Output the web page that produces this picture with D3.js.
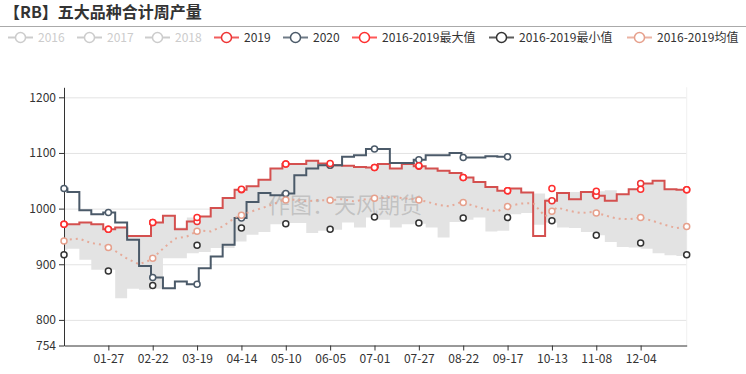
<!DOCTYPE html>
<html>
<head>
<meta charset="utf-8">
<script src="https://cdn.jsdelivr.net/npm/d3@7/dist/d3.min.js"></script>
<style>
body { margin: 0; background: #fff; }
svg { display: block; font-family: "Microsoft YaHei", "Noto Sans CJK SC", sans-serif; }
</style>
</head>
<body>
<script>
// weekly observation dates (on a leap-year day axis), last one closes the year
var weekDates = ['01-01','01-03','01-10','01-17','01-24','01-31','02-07','02-14','02-21','02-28',
  '03-06','03-13','03-20','03-27','04-03','04-10','04-17','04-24','05-01','05-08',
  '05-15','05-22','05-29','06-05','06-12','06-19','06-26','07-03','07-10','07-17',
  '07-24','07-31','08-07','08-14','08-21','08-28','09-04','09-11','09-18','09-25',
  '10-02','10-09','10-16','10-23','10-30','11-06','11-13','11-20','11-27','12-04',
  '12-11','12-18','12-25','12-31'];

var xLabels = ['01-27','02-22','03-19','04-14','05-10','06-05','07-01','07-27','08-22','09-17','10-13','11-08','12-04'];
var yTicks = [754, 800, 900, 1000, 1100, 1200];

var values2019 = [972, 972, 975, 972, 963, 966, 951, 951, 975, 987,
  963, 977, 986, 1001, 1019, 1034, 1040, 1052, 1072, 1080,
  1080, 1086, 1081, 1078, 1077, 1075, 1074, 1080, 1072, 1080,
  1076, 1072, 1068, 1064, 1056, 1048, 1039, 1032, 1036, 1029,
  951, 1014, 1028, 1017, 1030, 1023, 1014, 1026, 1035, 1045,
  1050, 1035, 1034, 1034];

var values2020 = [1036, 1030, 997, 990, 993, 975, 944, 897, 876, 857,
  869, 864, 893, 914, 935, 983, 1012, 1028, 1024, 1027,
  1060, 1072, 1078, 1078, 1093, 1096, 1107, 1107, 1082, 1082,
  1088, 1096, 1096, 1100, 1092, 1092, 1094, 1093];
var end2020 = '09-17';

var meanValues = [942, 944, 946, 938, 935, 924, 910, 900, 908, 928,
  946, 950, 961, 959, 968, 983, 992, 999, 1006, 1015,
  1016, 1013, 1015, 1015, 1017, 1013, 1017, 1019, 1021, 1019,
  1017, 1013, 1007, 1004, 1012, 1005, 999, 995, 1005, 1009,
  1010, 986, 1002, 996, 992, 994, 988, 982, 981, 984,
  978, 971, 965, 968];

var bandLow = [926, 928, 908, 890, 890, 839, 856, 854, 856, 911,
  911, 920, 922, 929, 929, 941, 953, 958, 972, 974,
  974, 956, 960, 962, 975, 966, 984, 980, 966, 972,
  973, 966, 948, 976, 980, 984, 959, 960, 990, 992,
  971, 975, 966, 965, 958, 952, 940, 931, 930, 928,
  920, 916, 915, 915];

var bandHigh = [972, 972, 975, 972, 963, 966, 951, 951, 975, 987,
  966, 984, 986, 1001, 1019, 1034, 1040, 1052, 1072, 1080,
  1080, 1086, 1081, 1078, 1077, 1075, 1074, 1080, 1072, 1080,
  1076, 1072, 1068, 1064, 1056, 1048, 1039, 1032, 1036, 1029,
  1027, 1018, 1028, 1030, 1030, 1031, 1033, 1026, 1035, 1045,
  1050, 1035, 1034, 1034];

// symbols sit on these dates
var markDates = ['01-01'].concat(xLabels, ['12-31']);
var maxMarks = [972, 963, 975, 984, 1035, 1080, 1081, 1074, 1077, 1056, 1032, 1036, 1031, 1035, 1034];
var minMarks = [917, 888, 862, 934, 965, 973, 963, 985, 974, 983, 984, 978, 952, 938, 917];

var legendNames = ['2016', '2017', '2018', '2019', '2020', '2016-2019最大值', '2016-2019最小值', '2016-2019均值'];

var width = 746, height = 374;
var c2019 = '#d4504f', c2019Dot = '#ee3434';
var c2020 = '#4b5a69';
var cMax = '#ff2e2e', cMin = '#333333', cMean = '#e6a08c';
var legendColors = ['#ccc', '#ccc', '#ccc', c2019Dot, c2020, cMax, cMin, cMean];
var legendOn = [false, false, false, true, true, true, true, true];

var svg = d3.select('body').append('svg')
    .attr('width', width)
    .attr('height', height);

// days of a leap year as the category axis
var categories = d3.timeDay.range(new Date(2020, 0, 1), new Date(2021, 0, 1)).map(d3.timeFormat('%m-%d'));
var x = d3.scalePoint().domain(categories).range([64, 686.7]);
var y = d3.scaleLinear().domain([754, 1218]).range([345.5, 87.3]);

function dayIndex(d) { return categories.indexOf(d); }

// value of a weekly step series on a given day
function stepValue(dates, values, date) {
  var v = null;
  for (var i = 0; i < values.length; i++) {
    if (dayIndex(dates[i]) <= dayIndex(date)) v = values[i];
  }
  return v;
}

// title + rule
svg.append('text')
    .attr('x', 4)
    .attr('y', 18)
    .attr('font-size', 16)
    .attr('font-weight', 'bold')
    .attr('fill', '#333')
    .text('【RB】五大品种合计周产量');

svg.append('line')
    .attr('x1', 0).attr('x2', width)
    .attr('y1', 26.5).attr('y2', 26.5)
    .attr('stroke', '#aaa')
    .attr('stroke-width', 1);

// legend
var legendX = [8, 77, 145, 214, 283, 352, 489, 627];
var legend = svg.append('g').selectAll('g')
    .data(legendNames)
    .enter().append('g')
    .attr('transform', function(d, i) { return 'translate(' + legendX[i] + ',37.5)'; });

legend.append('line')
    .attr('x1', 0).attr('x2', 25)
    .attr('stroke', function(d, i) { return legendColors[i]; })
    .attr('stroke-opacity', function(d, i) { return legendOn[i] ? 0.8 : 1; })
    .attr('stroke-width', 2);

legend.append('circle')
    .attr('cx', 12.5)
    .attr('r', 5)
    .attr('fill', '#fff')
    .attr('stroke', function(d, i) { return legendColors[i]; })
    .attr('stroke-width', 1.5);

legend.append('text')
    .attr('x', 30)
    .attr('y', 4.5)
    .attr('font-size', 12)
    .attr('fill', function(d, i) { return legendOn[i] ? '#333' : '#ccc'; })
    .text(function(d) { return d; });

// grid
svg.append('g').selectAll('line')
    .data(yTicks.filter(function(t) { return t !== 754; }))
    .enter().append('line')
    .attr('x1', 64).attr('x2', 686.7)
    .attr('y1', function(d) { return y(d) + 0.5; })
    .attr('y2', function(d) { return y(d) + 0.5; })
    .attr('stroke', '#e3e3e3');

svg.append('line')
    .attr('x1', 686.7).attr('x2', 686.7)
    .attr('y1', y(1218)).attr('y2', y(754))
    .attr('stroke', '#f0f0f0');

// 2016-2019 range band
var band = d3.area()
    .curve(d3.curveStepAfter)
    .x(function(d) { return x(d); })
    .y0(function(d, i) { return y(bandLow[i]); })
    .y1(function(d, i) { return y(bandHigh[i]); });

svg.append('path')
    .attr('d', band(weekDates))
    .attr('fill', '#e3e3e3');

// watermark
svg.append('text')
    .attr('x', 268)
    .attr('y', 213)
    .attr('font-size', 22)
    .attr('fill', '#999')
    .attr('fill-opacity', 0.45)
    .text('作图：天风期货');

// axes
var yAxis = svg.append('g')
    .attr('transform', 'translate(64,0)')
    .call(d3.axisLeft(y).tickValues(yTicks).tickFormat(d3.format('d'))
      .tickSize(5).tickSizeOuter(0).tickPadding(3));

var xAxis = svg.append('g')
    .attr('transform', 'translate(0,345.5)')
    .call(d3.axisBottom(x).tickValues(xLabels).tickSize(5).tickSizeOuter(0).tickPadding(4));

[yAxis, xAxis].forEach(function(ax) {
  ax.select('.domain').attr('stroke', '#333');
  ax.selectAll('.tick line').attr('stroke', '#333');
  ax.selectAll('text')
    .attr('font-size', 12)
    .attr('fill', '#333')
    .attr('font-family', '"Microsoft YaHei", "Noto Sans CJK SC", sans-serif');
});

// lines
var stepLine = d3.line()
    .curve(d3.curveStepAfter)
    .x(function(d) { return x(d[0]); })
    .y(function(d) { return y(d[1]); });

var pts2019 = weekDates.map(function(d, i) { return [d, values2019[i]]; });
var pts2020 = values2020.map(function(v, i) { return [weekDates[i], v]; });
pts2020.push([end2020, values2020[values2020.length - 1]]);

svg.append('path')
    .attr('d', stepLine(pts2019))
    .attr('fill', 'none')
    .attr('stroke', c2019)
    .attr('stroke-width', 2);

svg.append('path')
    .attr('d', stepLine(pts2020))
    .attr('fill', 'none')
    .attr('stroke', c2020)
    .attr('stroke-width', 2);

var meanLine = d3.line()
    .x(function(d) { return x(d); })
    .y(function(d, i) { return y(meanValues[i]); });

svg.append('path')
    .attr('d', meanLine(weekDates))
    .attr('fill', 'none')
    .attr('stroke', cMean)
    .attr('stroke-opacity', 0.85)
    .attr('stroke-width', 2)
    .attr('stroke-dasharray', '2,4');

// symbols
var meanAt = d3.scaleLinear()
    .domain(weekDates.map(dayIndex))
    .range(meanValues);

function drawMarks(dates, valueFn, color) {
  svg.append('g').selectAll('circle')
      .data(dates)
      .enter().append('circle')
      .attr('cx', function(d) { return x(d); })
      .attr('cy', function(d, i) { return y(valueFn(d, i)); })
      .attr('r', 3)
      .attr('fill', '#fff')
      .attr('stroke', color)
      .attr('stroke-width', 1.5);
}

drawMarks(markDates, function(d) { return stepValue(weekDates, values2019, d); }, c2019Dot);
drawMarks(markDates.filter(function(d) { return dayIndex(d) <= dayIndex(end2020); }),
    function(d) { return stepValue(weekDates, values2020, d); }, c2020);
drawMarks(markDates, function(d, i) { return maxMarks[i]; }, cMax);
drawMarks(markDates, function(d, i) { return minMarks[i]; }, cMin);
drawMarks(markDates, function(d) { return meanAt(dayIndex(d)); }, cMean);
</script>
</body>
</html>
